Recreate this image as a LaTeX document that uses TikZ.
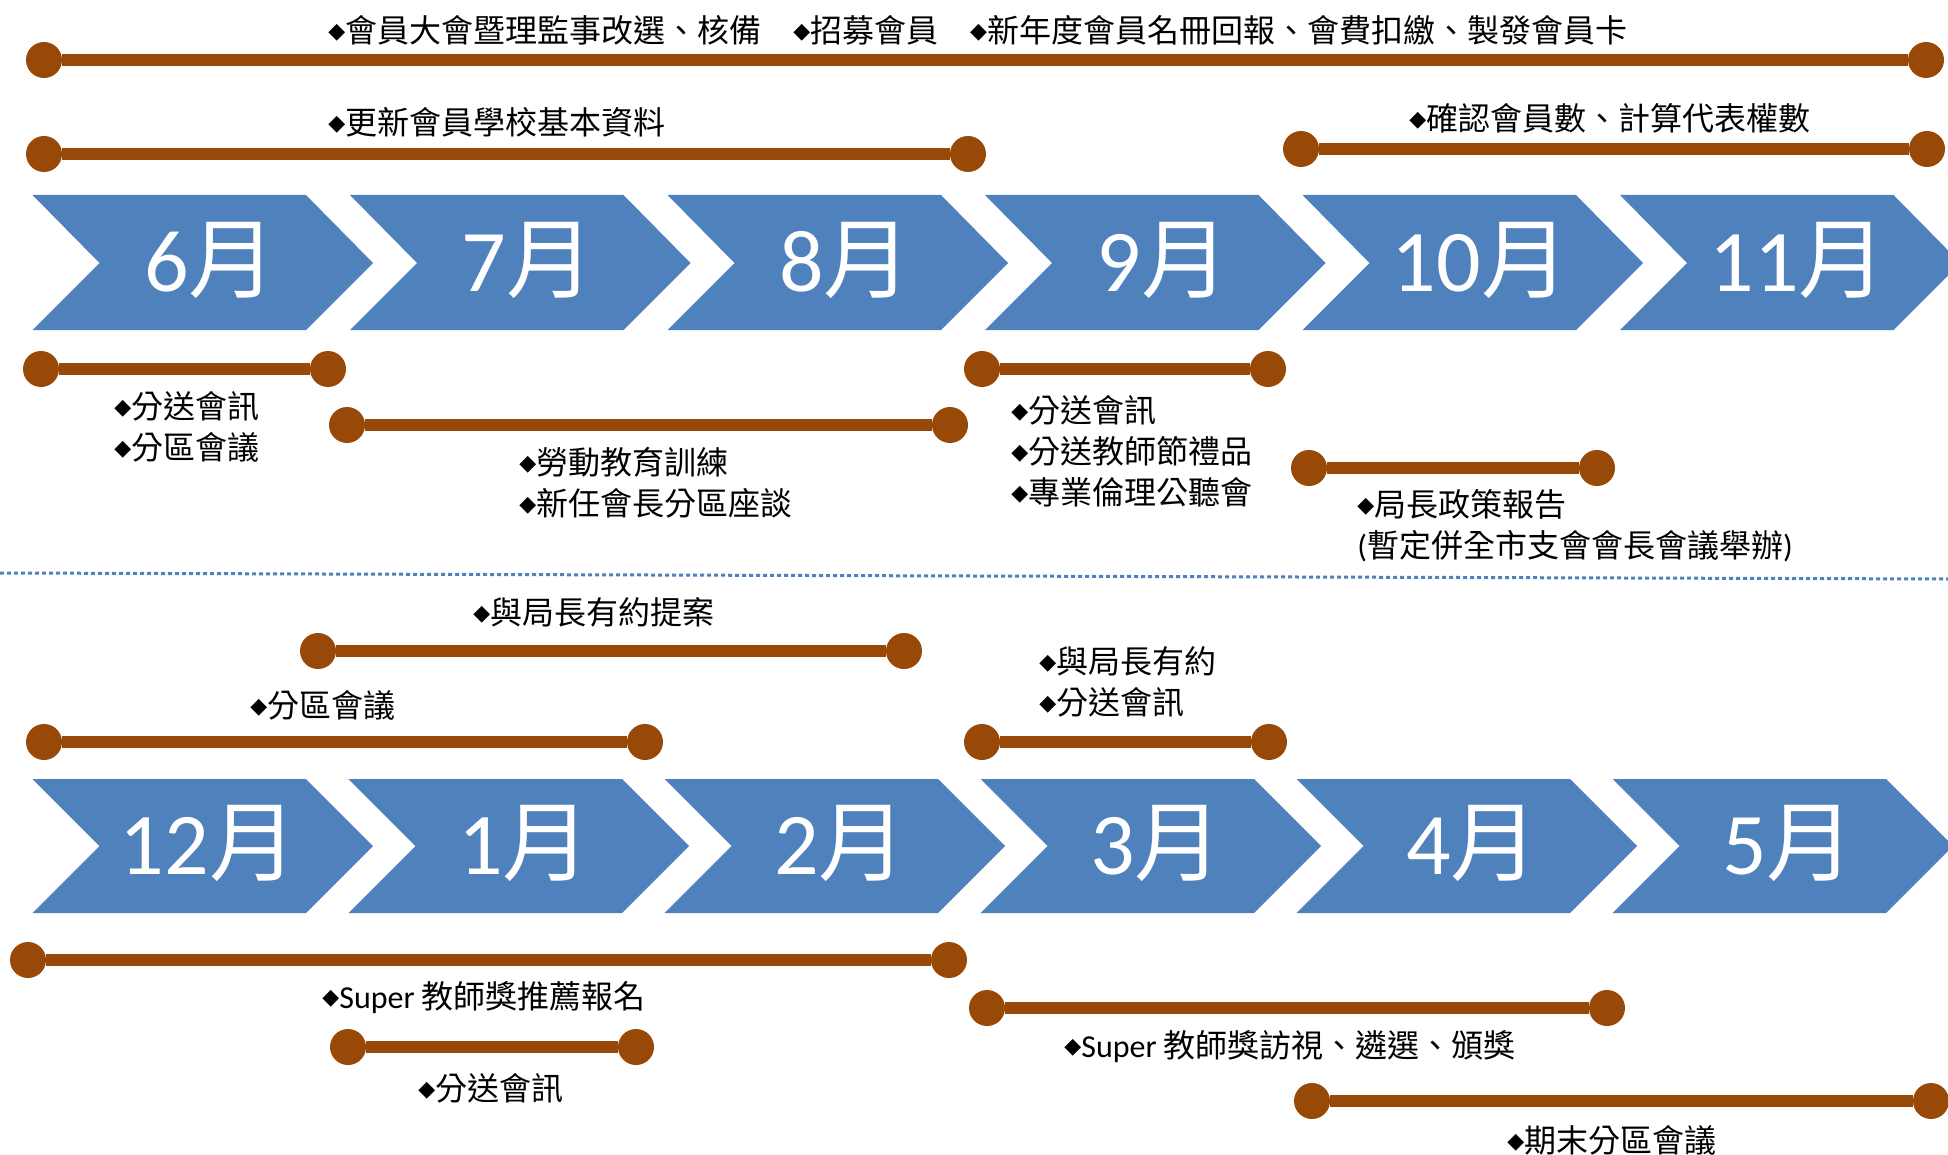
\documentclass[tikz,border=0pt]{standalone}
\usepackage{fontspec}
\setmainfont{Noto Sans CJK TC}
\newfontfamily\latfont{Carlito}
\newfontfamily\diafont{DejaVu Sans}
\usetikzlibrary{positioning}
\definecolor{chevblue}{HTML}{4F81BD}
\definecolor{barbrown}{HTML}{984807}
\newcommand\dia{\raisebox{2pt}{\diafont\fontsize{11}{11}\selectfont ◆}}
\tikzset{
  month/.style={fill=chevblue},
  monthlabel/.style={text=white, inner sep=0, font=\fontsize{44}{50}\selectfont},
  bardot/.style={circle, fill=barbrown, minimum size=18pt, inner sep=0},
  timebar/.style={draw=barbrown, line width=6pt},
  note/.style={anchor=west, align=left, inner sep=0, font=\fontsize{16}{20.5}\selectfont},
}

\begin{document}
\begin{tikzpicture}[x=0.5pt, y=-0.5pt]
  \useasboundingbox (0,0) rectangle (1948,1155);

  \foreach \m [count=\i from 0] in {6,...,11}
  {
    \fill [month] ({32.5+317.5*\i},195) -- ++(273.5,0) -- ++(67,68) -- ++(-67,67) -- ++(-273.5,0) -- ++(67,-67) -- cycle;
    \node [monthlabel] (m\m) at ({210.5+317.5*\i},260) {{\latfont\m}月};
  }
  \foreach \m [count=\i from 0] in {12,1,2,3,4,5}
  {
    \fill [month] ({32.5+316*\i},779) -- ++(273.5,0) -- ++(67,67) -- ++(-67,67) -- ++(-273.5,0) -- ++(67,-67) -- cycle;
    \node [monthlabel] (m\m) at ({208.5+316*\i},843) {{\latfont\m}月};
  }

  \draw [chevblue, line width=1.5pt, dash pattern=on 2pt off 1.5pt] (0,573) -- (1948,579);

  \foreach \n/\xa/\xb/\y in {a/44/1926/60, b/44/968/154, c/1301/1927/149,
    d/41/328/369, e/347/950/425, f/982/1268/369, g/1309/1597/468,
    h/318/904/651, i/44/645/742, j/982/1269/742,
    k/28/949/960, l/348/636/1047, m/987/1607/1008, n/1312/1931/1101}
  {
    \node [bardot] (\n1) at (\xa,\y) {};
    \node [bardot] (\n2) at (\xb,\y) {};
    \draw [timebar] (\n1) -- (\n2);
  }

  \node [note] (ta) at (328,30) {\dia 會員大會暨理監事改選、核備\quad\dia 招募會員\quad\dia 新年度會員名冊回報、會費扣繳、製發會員卡};
  \node [note] (tb) at (328,122) {\dia 更新會員學校基本資料};
  \node [note] (tc) at (1409,118) {\dia 確認會員數、計算代表權數};
  \node [note] (td) at (114,427) {\dia 分送會訊\\\dia 分區會議};
  \node [note] (te) at (519,483) {\dia 勞動教育訓練\\\dia 新任會長分區座談};
  \node [note] (tf) at (1011,451) {\dia 分送會訊\\\dia 分送教師節禮品\\\dia 專業倫理公聽會};
  \node [note] (tg) at (1357,526) {\dia 局長政策報告\\{\latfont(}暫定併全市支會會長會議舉辦{\latfont)}};

  \node [note] (th) at (473,612) {\dia 與局長有約提案};
  \node [note] (ti) at (250,705) {\dia 分區會議};
  \node [note] (tj) at (1039,682) {\dia 與局長有約\\\dia 分送會訊};
  \node [note] (tk) at (322,998) {\dia{\latfont Super} 教師獎推薦報名};
  \node [note] (tl) at (418,1088) {\dia 分送會訊};
  \node [note] (tm) at (1064,1047) {\dia{\latfont Super} 教師獎訪視、遴選、頒獎};
  \node [note] (tn) at (1507,1140) {\dia 期末分區會議};
\end{tikzpicture}
\end{document}
